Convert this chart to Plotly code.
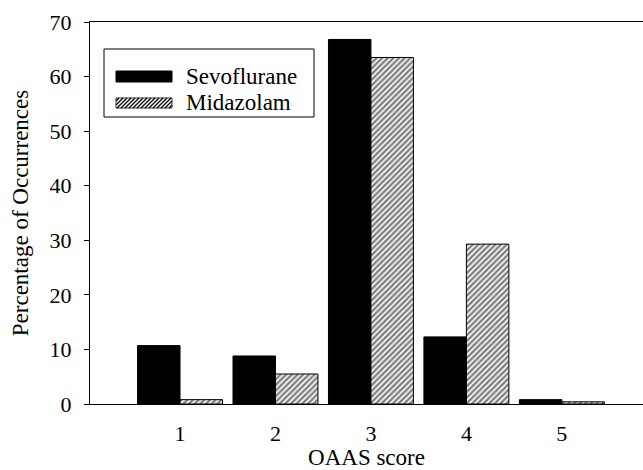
import plotly.graph_objects as go

categories = [1, 2, 3, 4, 5]
sevoflurane = [10.7, 8.8, 66.8, 12.3, 0.8]
midazolam = [0.8, 5.5, 63.5, 29.3, 0.4]
series_names = ["Sevoflurane", "Midazolam"]
y_ticks = [0, 10, 20, 30, 40, 50, 60, 70]

W, H = 643, 470
ML, MR, MT, MB = 90, 0, 22, 66
FONT = "Liberation Serif"

fig = go.Figure()
fig.add_trace(go.Bar(
    x=categories, y=sevoflurane, name=series_names[0],
    marker=dict(color="black", line=dict(color="black", width=1)),
    showlegend=False,
))
fig.add_trace(go.Bar(
    x=categories, y=midazolam, name=series_names[1],
    marker=dict(color="white", line=dict(color="black", width=1),
                pattern=dict(shape="/", size=4, solidity=0.6,
                             fgcolor="black", bgcolor="white")),
    showlegend=False,
))

pw, ph = W - ML - MR, H - MT - MB
def px(x):
    return (x - ML) / pw
def py(y):
    return (H - MB - y) / ph

shapes = []
shapes.append(dict(type="rect", xref="paper", yref="paper",
                   x0=px(104), x1=px(314), y0=py(117), y1=py(49),
                   line=dict(color="black", width=1), fillcolor="white", layer="above"))
shapes.append(dict(type="rect", xref="paper", yref="paper",
                   x0=px(116), x1=px(172), y0=py(82), y1=py(71),
                   line=dict(color="black", width=1), fillcolor="black", layer="above"))
sx0, sx1, sy0, sy1 = 116, 172, 98, 108
shapes.append(dict(type="rect", xref="paper", yref="paper",
                   x0=px(sx0), x1=px(sx1), y0=py(sy1), y1=py(sy0),
                   line=dict(color="black", width=0.8), fillcolor="white", layer="above"))
path = ""
k = sx0 + sy0 + 3
while k < sx1 + sy1:
    xa = max(sx0, k - sy1)
    xb = min(sx1, k - sy0)
    if xb > xa:
        path += f"M{px(xa)},{py(k - xa)}L{px(xb)},{py(k - xb)}"
    k += 4
shapes.append(dict(type="path", xref="paper", yref="paper", path=path,
                   line=dict(color="black", width=1.3), layer="above"))

annotations = [
    dict(text=series_names[0], xref="paper", yref="paper", x=px(184), y=py(76),
         xanchor="left", yanchor="middle", showarrow=False,
         font=dict(family=FONT, size=23, color="black")),
    dict(text=series_names[1], xref="paper", yref="paper", x=px(184), y=py(103),
         xanchor="left", yanchor="middle", showarrow=False,
         font=dict(family=FONT, size=23, color="black")),
]

fig.update_layout(
    width=W, height=H,
    margin=dict(l=ML, r=MR, t=MT, b=MB, autoexpand=False),
    paper_bgcolor="white", plot_bgcolor="white",
    barmode="group", bargap=0.11, bargroupgap=0,
    font=dict(family=FONT, size=22, color="black"),
    shapes=shapes, annotations=annotations,
    xaxis=dict(
        range=[0.057, 5.85], tickvals=categories, ticktext=[str(c) for c in categories],
        showgrid=False, zeroline=False, showline=True, linecolor="black", linewidth=1,
        mirror=True, ticks="", ticklabelstandoff=10, automargin=False,
        title=dict(text="OAAS score", standoff=8, font=dict(family=FONT, size=23)),
        tickfont=dict(family=FONT, size=22),
    ),
    yaxis=dict(
        range=[0, 70], tickvals=y_ticks, automargin=False,
        showgrid=False, zeroline=False, showline=True, linecolor="black", linewidth=1,
        ticks="outside", ticklen=5, tickcolor="black", ticklabelstandoff=8,
        title=dict(text="Percentage of Occurrences", standoff=14, font=dict(family=FONT, size=23)),
        tickfont=dict(family=FONT, size=22),
    ),
)

fig.write_html("out.html", config={"displayModeBar": False},
               post_script="document.body.style.margin='0px';document.body.style.overflow='hidden';")
